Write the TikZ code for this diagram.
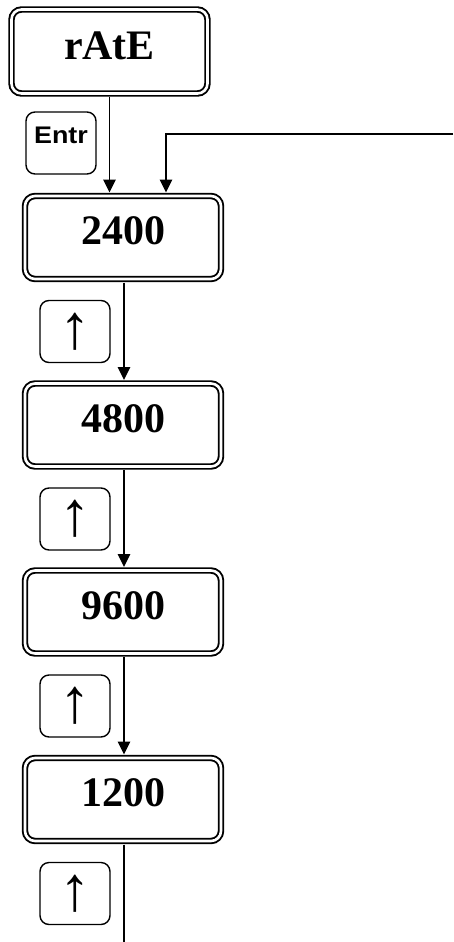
\documentclass[tikz,border=0pt]{standalone}
\usepackage{fontspec}
\setmainfont{Liberation Serif}
\newfontfamily\keyfont[FakeStretch=1.12]{Liberation Sans}
\newfontfamily\arrowfont{Liberation Sans}
\usetikzlibrary{arrows.meta}
\begin{document}
\begin{tikzpicture}[x=1pt,y=-1pt,
  stepbox/.style={draw, double, line width=1.9pt, double distance=2.6pt,
    rounded corners=10pt, minimum width=196pt, minimum height=83pt,
    inner sep=0pt, outer sep=3.5pt, font=\fontsize{42}{42}\selectfont\bfseries,
    text height=28.4pt, text depth=14pt},
  keybox/.style={draw, line width=1.4pt, rounded corners=9pt,
    minimum width=70pt, minimum height=62pt, inner sep=0pt},
  upkey/.style={keybox, font=\arrowfont\fontsize{63}{63}\selectfont},
  flow/.style={line width=1.6pt, -{Triangle[length=13pt,width=12.5pt]}},
  plain/.style={line width=1.6pt}]
\useasboundingbox (0,0) rectangle (453,942);
\node[stepbox, minimum width=196pt, minimum height=84pt, text depth=12pt] (rate) at (109.5,51.5) {rAtE};
\node[stepbox] (b2400) at (123,237.5) {2400};
\node[stepbox] (b4800) at (123,425) {4800};
\node[stepbox] (b9600) at (123,612) {9600};
\node[stepbox] (b1200) at (123,799.5) {1200};
\node[keybox, font=\keyfont\fontsize{24}{24}\selectfont\bfseries, text height=17.2pt, text depth=16pt] (entr) at (61,143) {Entr};
\node[upkey] (k1) at (75,331.5) {↑};
\node[upkey] (k2) at (75,519) {↑};
\node[upkey] (k3) at (75,706) {↑};
\node[upkey] (k4) at (75,893.5) {↑};
\coordinate (ret) at (453,134);
\coordinate (tail) at (124,942);
\draw[flow] (rate.south) -- (rate.south |- b2400.north);
\draw[flow] (ret) -| ([xshift=43pt]b2400.north);
\draw[flow] ([xshift=1pt]b2400.south) -- ([xshift=1pt]b4800.north);
\draw[flow] ([xshift=1pt]b4800.south) -- ([xshift=1pt]b9600.north);
\draw[flow] ([xshift=1pt]b9600.south) -- ([xshift=1pt]b1200.north);
\draw[plain] ([xshift=1pt]b1200.south) -- (tail);
\end{tikzpicture}
\end{document}
